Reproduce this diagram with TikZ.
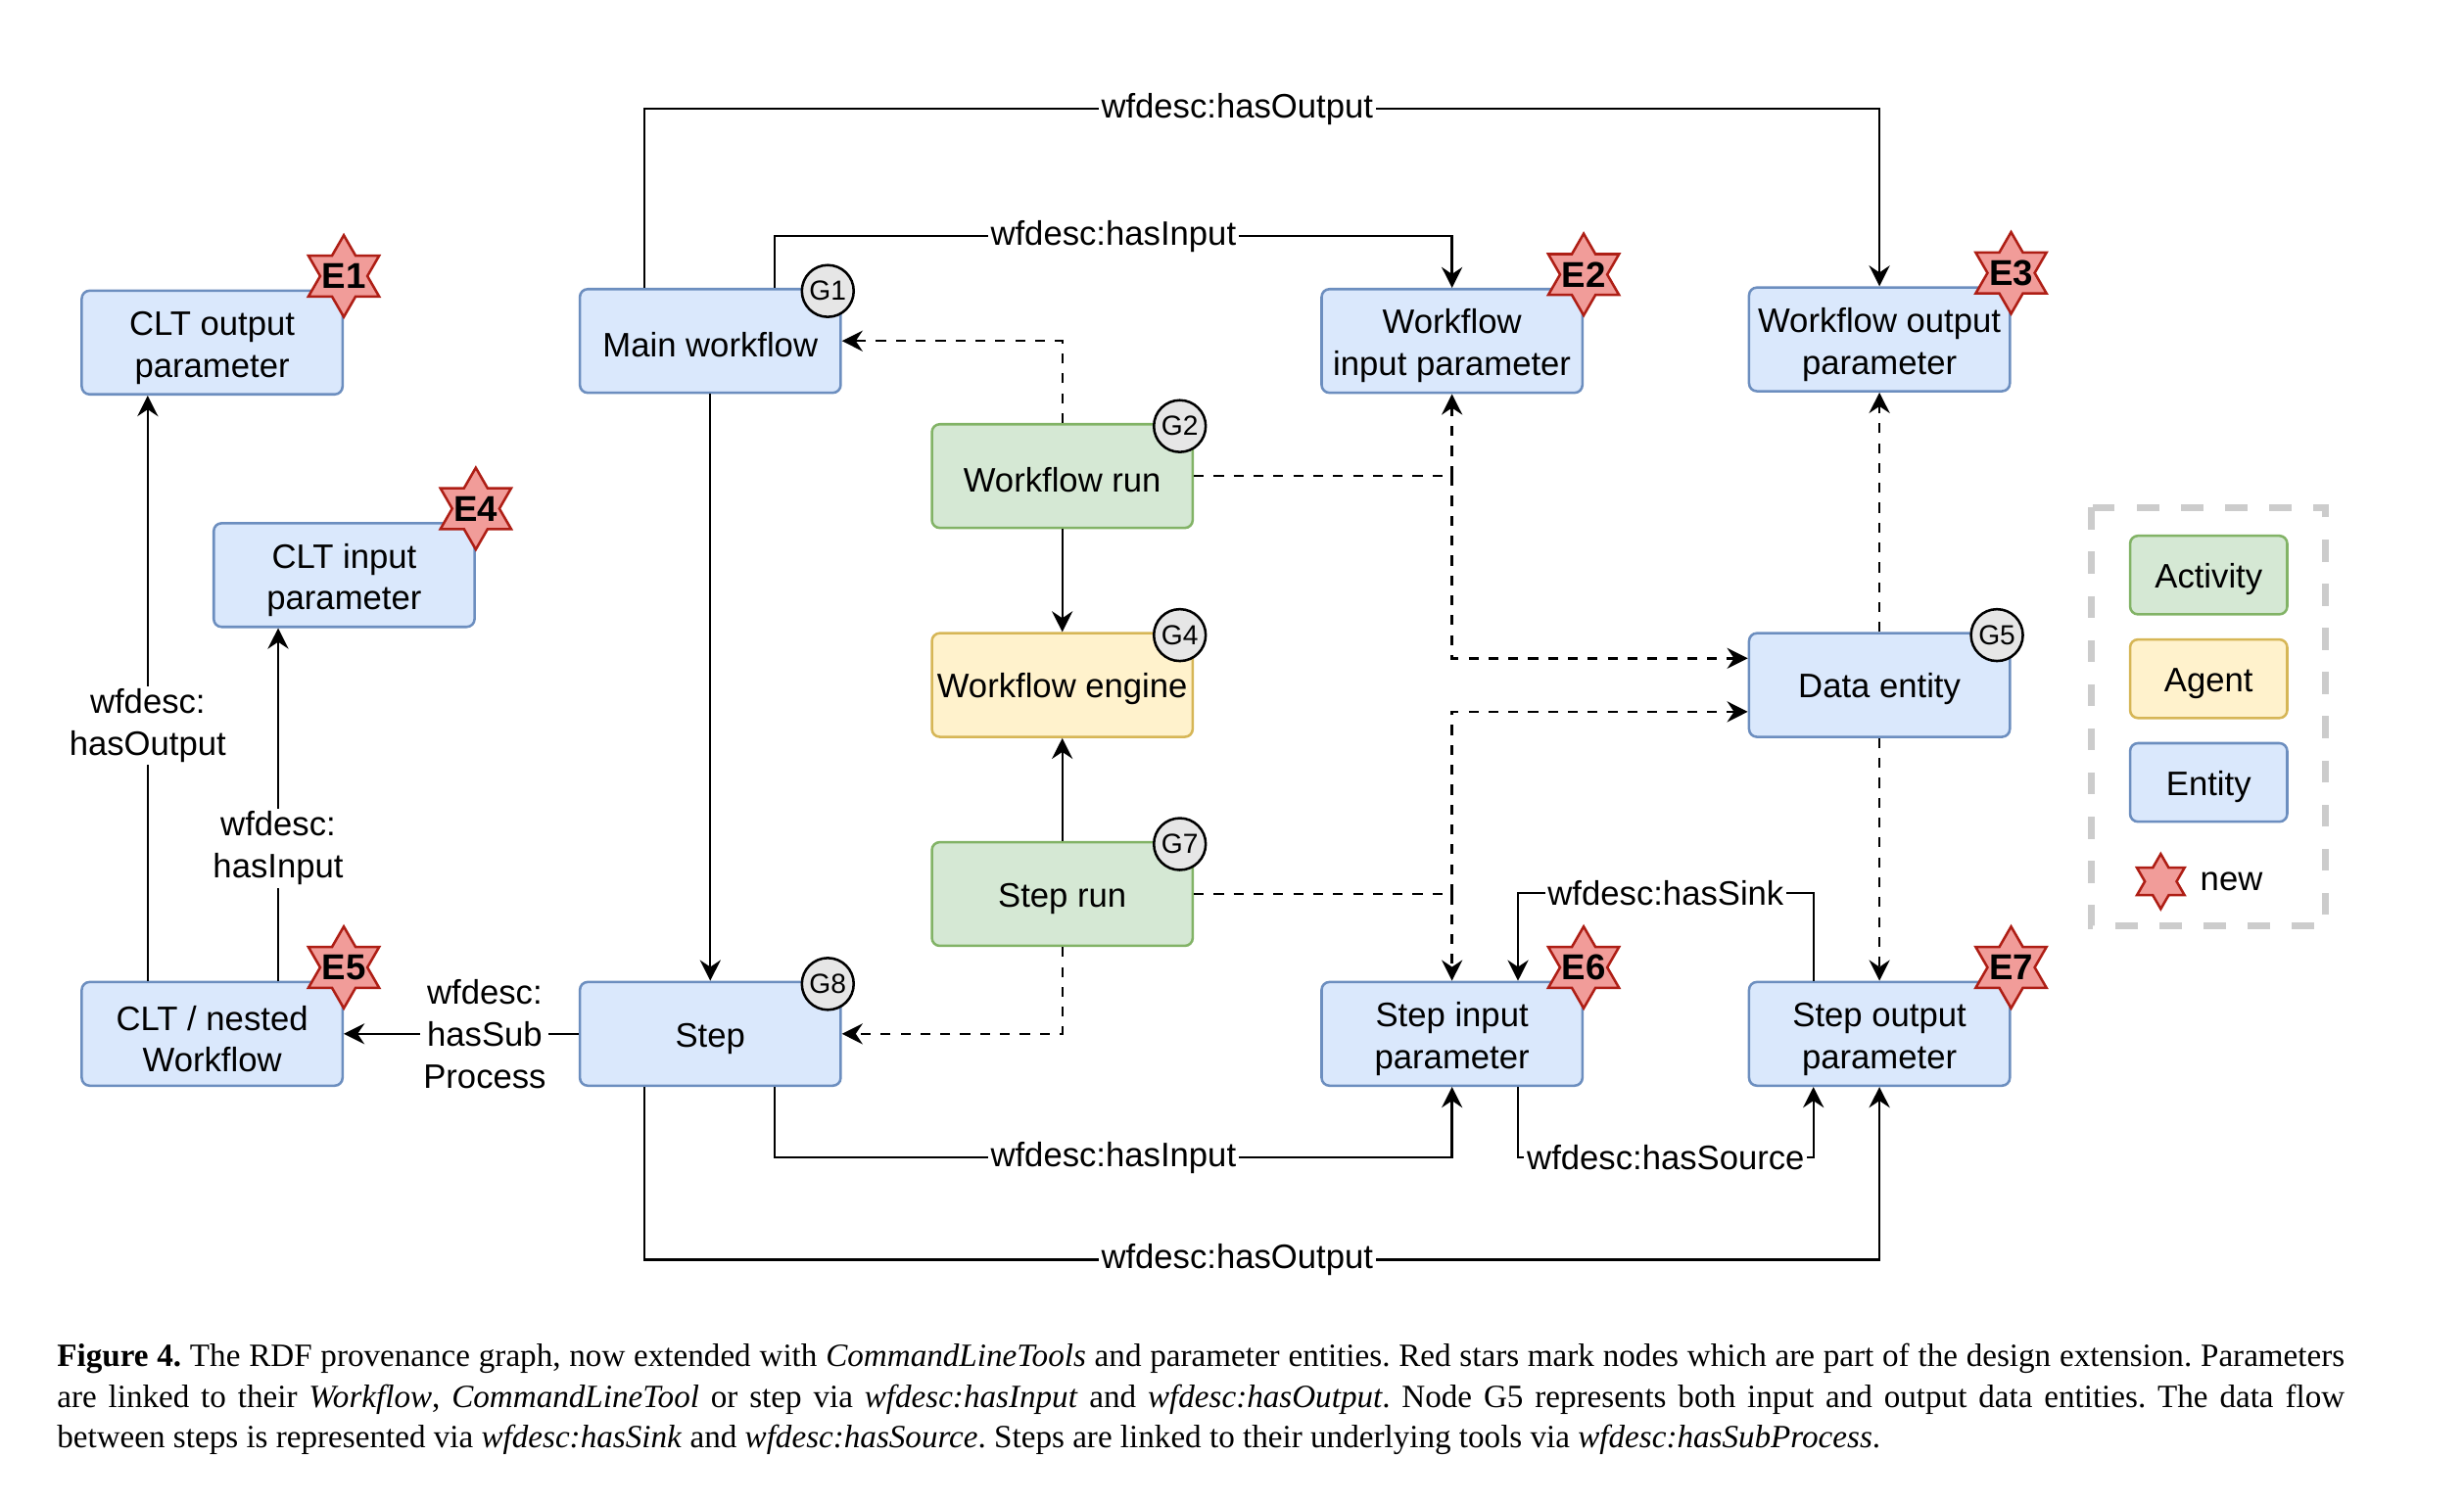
\documentclass[tikz,border=0pt]{standalone}
\usepackage{fontspec}
\setmainfont{Liberation Sans}
\newfontfamily\capfont{Liberation Serif}
\usetikzlibrary{arrows.meta,shapes.geometric,calc}
\definecolor{entfill}{HTML}{DAE8FC}
\definecolor{entdraw}{HTML}{6C8EBF}
\definecolor{actfill}{HTML}{D5E8D4}
\definecolor{actdraw}{HTML}{82B366}
\definecolor{agtfill}{HTML}{FFF2CC}
\definecolor{agtdraw}{HTML}{D6B656}
\definecolor{starfill}{HTML}{F19C99}
\definecolor{stardraw}{HTML}{AE1E15}
\definecolor{gfill}{HTML}{E6E6E6}
\definecolor{legdraw}{HTML}{CCCCCC}
\newcommand{\liftline}{\rule{0pt}{12.6pt}}
\tikzset{
  mainfont/.style={font=\fontsize{12.3}{15.2}\selectfont},
  boxbase/.style={rectangle, rounded corners=0.1cm, minimum width=3.32cm, minimum height=1.32cm,
    align=center, inner sep=0pt, line width=0.9pt, mainfont,
    execute at begin node={\rule{0pt}{12pt}}},
  entity/.style={boxbase, fill=entfill, draw=entdraw},
  activity/.style={boxbase, fill=actfill, draw=actdraw},
  agent/.style={boxbase, fill=agtfill, draw=agtdraw},
  conn/.style={line width=0.85pt, -{Stealth[length=7.5pt,width=7.5pt,inset=2.5pt]}},
  dconn/.style={conn, dash pattern=on 3.6pt off 3.6pt},
  lab/.style={fill=white, inner sep=1pt, mainfont, align=center},
  starbadge/.style={star, star points=6, star point ratio=1.732, minimum size=1.04cm,
    inner sep=0pt, fill=starfill, draw=stardraw, line width=0.9pt},
  etext/.style={inner sep=0pt, font=\fontsize{13}{13}\selectfont\bfseries},
  gbadge/.style={circle, minimum size=0.66cm, inner sep=0pt, fill=gfill, draw=black,
    line width=0.9pt, font=\fontsize{10}{10}\selectfont},
}
\begin{document}
\begin{tikzpicture}[x=0.02cm, y=-0.02cm]
\useasboundingbox (0,0) rectangle (1568,957);

% ---------- nodes ----------
\node[entity] (clto) at (135,218) {\liftline CLT output\\parameter};
\node[entity] (clti) at (219,366) {\liftline CLT input\\parameter};
\node[entity] (cltn) at (135,658) {\liftline CLT / nested\\Workflow};
\node[entity] (mw) at (452,217) {Main workflow};
\node[entity] (st) at (452,658) {Step};
\node[activity] (wr) at (676,303) {Workflow run};
\node[agent] (we) at (676,436) {Workflow engine};
\node[activity] (sr) at (676,569) {Step run};
\node[entity] (wip) at (924,217) {\liftline Workflow\\input parameter};
\node[entity] (wop) at (1196,216) {\liftline Workflow output\\parameter};
\node[entity] (de) at (1196,436) {Data entity};
\node[entity] (sip) at (924,658) {\liftline Step input\\parameter};
\node[entity] (sop) at (1196,658) {\liftline Step output\\parameter};

% ---------- connectors ----------
\draw[conn] ($(mw.north)+(-42,0)$) -- ++(0,-114) -| (wop.north)
  node[lab,pos=0.24] (l1) {wfdesc:hasOutput};
\draw[conn] ($(mw.north)+(41,0)$) -- ++(0,-33) -| (wip.north)
  node[lab,pos=0.25] (l2) {wfdesc:hasInput};
\draw[conn] (mw.south) -- (st.north);
\draw[dconn] (wr.north) |- (mw.east);
\draw[conn] (wr.south) -- (we.north);
\draw[conn] (sr.north) -- (we.south);
\draw[dconn] (sr.south) |- (st.east);

\coordinate (j1) at (wip.south |- wr.east);
\draw[dconn] (wr.east) -- (j1) -- (wip.south);
\draw[dconn] (j1) |- ($(de.west)+(0,-17)$);
\coordinate (j2) at (sip.north |- sr.east);
\draw[dconn] (sr.east) -- (j2) -- (sip.north);
\draw[dconn] (j2) |- ($(de.west)+(0,17)$);

\draw[dconn] (de.north) -- (wop.south);
\draw[dconn] (de.south) -- (sop.north);

\draw[conn] ($(st.south)+(41,0)$) -- ++(0,45) -| (sip.south)
  node[lab,pos=0.25] (l3) {wfdesc:hasInput};
\draw[conn] ($(st.south)+(-42,0)$) -- ++(0,110) -| (sop.south)
  node[lab,pos=0.24] (l4) {wfdesc:hasOutput};
\draw[conn] ($(sop.north)+(-42,0)$) -- ++(0,-56) -| ($(sip.north)+(42,0)$)
  node[lab,pos=0.25] (l5) {wfdesc:hasSink};
\draw[conn] ($(sip.south)+(42,0)$) -- ++(0,45) -| ($(sop.south)+(-42,0)$)
  node[lab,pos=0.25] (l6) {wfdesc:hasSource};
\draw[conn] (st.west) -- (cltn.east)
  node[lab,pos=0.4] (l7) {wfdesc:\\hasSub\\Process};
\draw[conn] ($(cltn.north)+(-41,0)$) -- ($(clto.south)+(-41,0)$)
  node[lab,pos=0.436] (l8) {wfdesc:\\hasOutput};
\draw[conn] ($(cltn.north)+(42,0)$) -- ($(clti.south)+(-42,0)$)
  node[lab,pos=0.376] (l9) {wfdesc:\\hasInput};

% ---------- badges ----------
\foreach \b/\n in {clto/E1, wip/E2, wop/E3, clti/E4, cltn/E5, sip/E6, sop/E7}{
  \node[starbadge] (s\n) at ($(\b.north east)+(0,-8.5)$) {};
  \node[etext] (t\n) at (s\n) {\n};
}
\foreach \b/\n in {mw/G1, wr/G2, we/G4, de/G5, sr/G7, st/G8}{
  \node[gbadge] (c\n) at ($(\b.north east)+(-9,2)$) {\n};
}

% ---------- legend ----------
\draw[legdraw, line width=2.4pt, dash pattern=on 8pt off 8pt] (1331,323) rectangle (1480,589);
\node[activity, minimum width=2cm, minimum height=1cm] (lact) at (1405.5,366) {Activity};
\node[agent, minimum width=2cm, minimum height=1cm] (lagt) at (1405.5,432) {Agent};
\node[entity, minimum width=2cm, minimum height=1cm] (lent) at (1405.5,498) {Entity};
\node[starbadge, minimum size=0.7cm] (lstar) at (1375,561) {};
\node[mainfont, inner sep=0pt] (lnew) at (1420,561) {new};

% ---------- caption ----------
\node[anchor=north west, text width=29.12cm, align=justify, inner sep=0pt,
  font=\capfont\fontsize{11.75}{14.74}\selectfont\frenchspacing] (cap) at (36,855)
{\textbf{Figure 4.} The RDF provenance graph, now extended with \textit{CommandLineTools} and parameter entities. Red stars mark nodes which are part of the design extension. Parameters\linebreak
are linked to their \textit{Workflow}, \textit{CommandLineTool} or step via \textit{wfdesc:hasInput} and \textit{wfdesc:hasOutput}. Node G5 represents both input and output data entities. The data flow\linebreak
between steps is represented via \textit{wfdesc:hasSink} and \textit{wfdesc:hasSource}. Steps are linked to their underlying tools via \textit{wfdesc:hasSubProcess}.};
\end{tikzpicture}
\end{document}
